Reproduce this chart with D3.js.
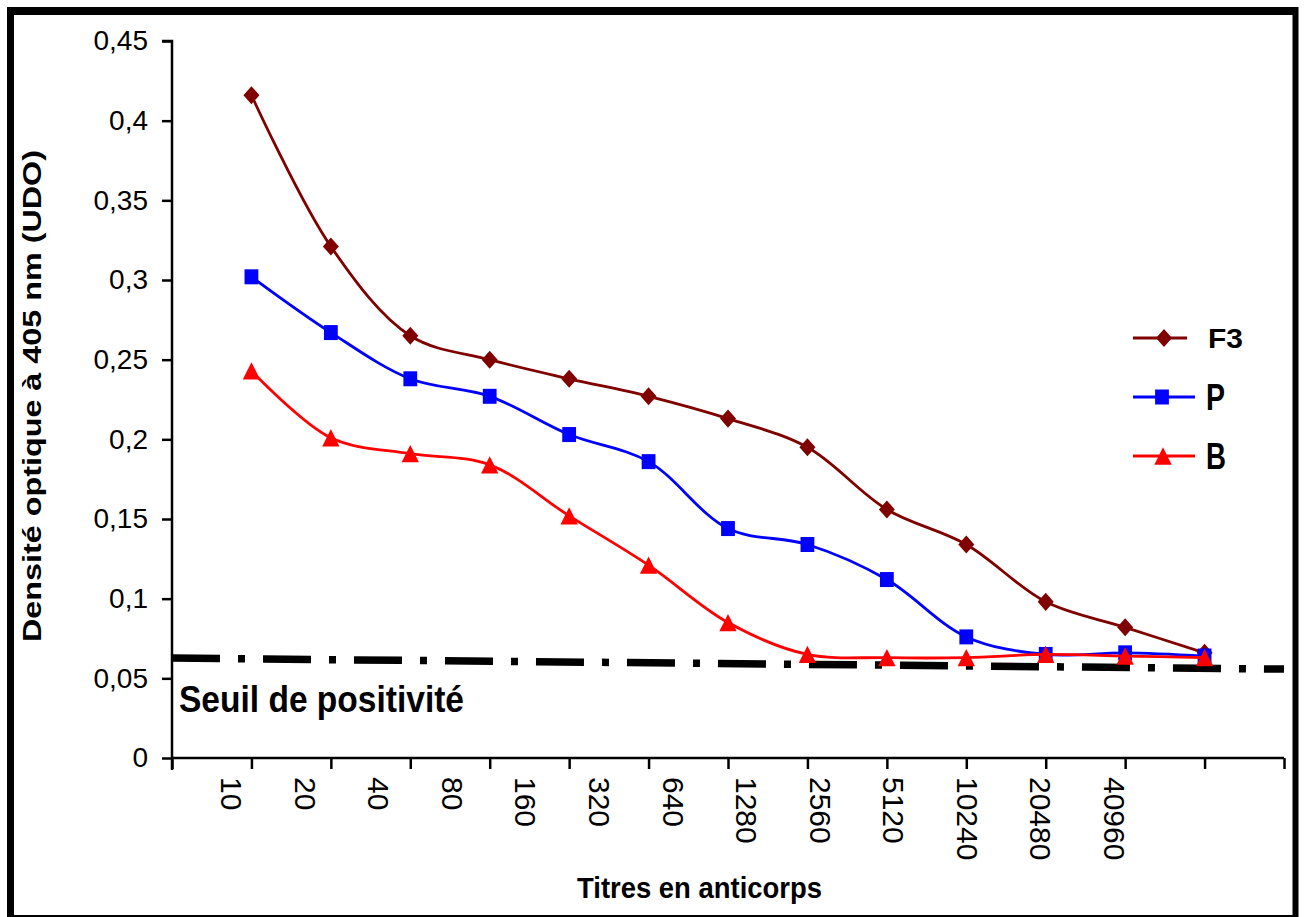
<!DOCTYPE html>
<html>
<head>
<meta charset="utf-8">
<script src="https://cdn.jsdelivr.net/npm/d3@7/dist/d3.min.js"></script>
<style>
  html, body { margin: 0; padding: 0; background: #ffffff; }
  svg { display: block; font-family: "Liberation Sans", Arial, sans-serif; }
</style>
</head>
<body>
<svg id="chart" width="1304" height="917"></svg>
<script>
// ---------- data ----------
const categories = ["10","20","40","80","160","320","640","1280","2560","5120","10240","20480","40960"];
const seriesNames = ["F3", "P", "B"];
const valuesF3 = [0.416, 0.321, 0.265, 0.250, 0.238, 0.227, 0.213, 0.195, 0.156, 0.134, 0.098, 0.082, 0.066];
const valuesP  = [0.302, 0.267, 0.238, 0.227, 0.203, 0.186, 0.144, 0.134, 0.112, 0.076, 0.065, 0.066, 0.064];
const valuesB  = [0.243, 0.201, 0.191, 0.184, 0.152, 0.121, 0.085, 0.065, 0.063, 0.063, 0.065, 0.064, 0.063];
const yTicks = [0, 0.05, 0.1, 0.15, 0.2, 0.25, 0.3, 0.35, 0.4, 0.45];
const yTickLabels = ["0", "0,05", "0,1", "0,15", "0,2", "0,25", "0,3", "0,35", "0,4", "0,45"];
const thresholdValues = [0.0627, 0.0558]; // start / end of "Seuil de positivité" line
const thresholdLabel = "Seuil de positivité";
const yTitle = "Densité optique à 405 nm (UDO)";
const xTitle = "Titres en anticorps";

// ---------- setup ----------
const svg = d3.select("#chart");
const pLeft = 172, pRight = 1284, pTop = 41, pBottom = 758;

const x = d3.scaleLinear().domain([0, categories.length + 1]).range([pLeft, pRight]);
const xLabel = d3.scalePoint().domain(categories).range([232, 1115]);
const y = d3.scaleLinear().domain([0, 0.45]).range([pBottom, pTop]);

// frame
const frame = svg.append("g").attr("stroke", "#000");
frame.append("line").attr("x1", 7).attr("x2", 1298).attr("y1", 11).attr("y2", 11).attr("stroke-width", 8);
frame.append("line").attr("x1", 10.5).attr("x2", 10.5).attr("y1", 7).attr("y2", 917).attr("stroke-width", 7);
frame.append("line").attr("x1", 1295.5).attr("x2", 1295.5).attr("y1", 7).attr("y2", 917).attr("stroke-width", 6);
frame.append("line").attr("x1", 7).attr("x2", 1298).attr("y1", 916).attr("y2", 916).attr("stroke-width", 2);

// y axis
const yAxis = d3.axisLeft(y).tickValues(yTicks).tickSize(10).tickPadding(14)
  .tickFormat((d, i) => yTickLabels[i]);
const gy = svg.append("g").attr("transform", `translate(${pLeft},0)`).call(yAxis);
gy.select(".domain").attr("stroke-width", 2.5).attr("d", `M-10,${pTop}H0V${pBottom + 12}`);
gy.selectAll(".tick line").attr("stroke-width", 2.5);
gy.selectAll(".tick text").attr("font-size", 28).attr("fill", "#000")
  .attr("font-family", "Liberation Sans, Arial, sans-serif");

// x axis (ticks at category boundaries, labels offset)
const xAxis = d3.axisBottom(x).tickValues(d3.range(0, categories.length + 2)).tickSize(11).tickFormat("");
const gx = svg.append("g").attr("transform", `translate(0,${pBottom})`).call(xAxis);
gx.select(".domain").attr("stroke-width", 2.5).attr("d", `M${pLeft},0H${pRight}`);
gx.selectAll(".tick line").attr("stroke-width", 2.5);

svg.append("g").selectAll("text").data(categories).join("text")
  .attr("transform", d => `translate(${xLabel(d) - 11},777) rotate(90)`)
  .attr("font-size", 30).attr("fill", "#000")
  .text(d => d);

// threshold line
svg.append("line")
  .attr("x1", x(0)).attr("x2", pRight)
  .attr("y1", y(thresholdValues[0])).attr("y2", y(thresholdValues[1]))
  .attr("stroke", "#000").attr("stroke-width", 7.5)
  .attr("stroke-dasharray", "48,18,7,18");

svg.append("text").attr("x", 179).attr("y", 712)
  .attr("font-size", 37).attr("font-weight", "bold")
  .attr("textLength", 285).attr("lengthAdjust", "spacingAndGlyphs")
  .text(thresholdLabel);

// symbols
const diamondType = { draw(ctx, size) { const s = Math.sqrt(size); const w = s * 0.47, h = s * 0.53;
  ctx.moveTo(0, -h); ctx.lineTo(w, 0); ctx.lineTo(0, h); ctx.lineTo(-w, 0); ctx.closePath(); } };
const squareType = { draw(ctx, size) { const s = Math.sqrt(size); const w = s * 0.46, h = s * 0.5;
  ctx.moveTo(-w, -h); ctx.lineTo(w, -h); ctx.lineTo(w, h); ctx.lineTo(-w, h); ctx.closePath(); } };
const triType = { draw(ctx, size) { const s = Math.sqrt(size); const w = s * 0.5, h = s * 0.5;
  ctx.moveTo(0, -h); ctx.lineTo(w, h); ctx.lineTo(-w, h); ctx.closePath(); } };

const series = [
  { name: seriesNames[0], values: valuesF3, color: "#800000", type: diamondType, size: 290 },
  { name: seriesNames[1], values: valuesP,  color: "#0000ff", type: squareType,  size: 225 },
  { name: seriesNames[2], values: valuesB,  color: "#ff0000", type: triType,     size: 300 }
];

const line = d3.line().x((d, i) => x(i + 1)).y(d => y(d)).curve(d3.curveCatmullRom.alpha(0.5));

series.forEach(s => {
  const g = svg.append("g");
  g.append("path").attr("d", line(s.values)).attr("fill", "none")
    .attr("stroke", s.color).attr("stroke-width", 2.8);
  g.selectAll("path.m").data(s.values).join("path").attr("class", "m")
    .attr("transform", (d, i) => `translate(${x(i + 1)},${y(d)})`)
    .attr("d", d3.symbol().type(s.type).size(s.size)())
    .attr("fill", s.color);
});

// legend
const legendItems = [
  { s: series[0], ly: 338, x1: 1133, x2: 1187, mx: 1164, tx: 1208, fs: 28, tl: 35, by: 348 },
  { s: series[1], ly: 397, x1: 1133, x2: 1195, mx: 1162, tx: 1206, fs: 37, tl: 19, by: 410 },
  { s: series[2], ly: 456, x1: 1133, x2: 1195, mx: 1163, tx: 1206, fs: 37, tl: 20, by: 469 }
];
const lg = svg.append("g");
legendItems.forEach(it => {
  lg.append("line").attr("x1", it.x1).attr("x2", it.x2).attr("y1", it.ly).attr("y2", it.ly)
    .attr("stroke", it.s.color).attr("stroke-width", 2.8);
  lg.append("path").attr("transform", `translate(${it.mx},${it.ly})`)
    .attr("d", d3.symbol().type(it.s.type).size(it.s.size)()).attr("fill", it.s.color);
  lg.append("text").attr("x", it.tx).attr("y", it.by).attr("font-size", it.fs).attr("font-weight", "bold")
    .attr("textLength", it.tl).attr("lengthAdjust", "spacingAndGlyphs").text(it.s.name);
});

// axis titles
svg.append("text").attr("transform", "translate(41,396) rotate(-90)")
  .attr("text-anchor", "middle").attr("font-size", 25).attr("font-weight", "bold")
  .attr("textLength", 492).attr("lengthAdjust", "spacingAndGlyphs")
  .text(yTitle);

svg.append("text").attr("x", 699.5).attr("y", 898).attr("text-anchor", "middle")
  .attr("font-size", 29).attr("font-weight", "bold")
  .attr("textLength", 245).attr("lengthAdjust", "spacingAndGlyphs")
  .text(xTitle);
</script>
</body>
</html>
